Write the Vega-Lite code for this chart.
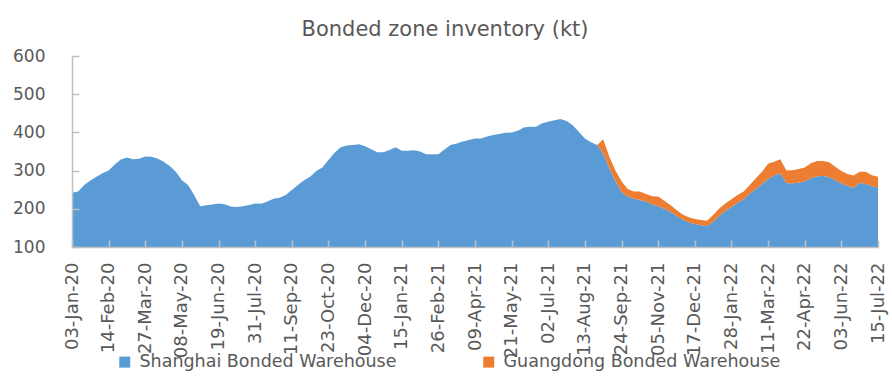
{
  "$schema": "https://vega.github.io/schema/vega-lite/v6.json",
  "width": 806,
  "height": 191,
  "autosize": "none",
  "padding": {"left": 72, "top": 56, "right": 14, "bottom": 137},
  "background": "white",
  "config": {"view": {"stroke": null}},
  "title": {"text": "Bonded zone inventory (kt)", "font": "DejaVu Sans", "fontSize": 21, "fontWeight": "normal", "color": "#595959", "anchor": "middle", "dx": -30, "offset": 7},
  "data": {"values": [
    {"d":"2020-01-03","sh":242},{"d":"2020-01-10","sh":245},{"d":"2020-01-17","sh":262},{"d":"2020-01-24","sh":274},{"d":"2020-01-31","sh":284},
    {"d":"2020-02-07","sh":293},{"d":"2020-02-14","sh":300},{"d":"2020-02-21","sh":316},{"d":"2020-02-28","sh":329},
    {"d":"2020-03-06","sh":334},{"d":"2020-03-13","sh":330},{"d":"2020-03-20","sh":331},{"d":"2020-03-27","sh":337},
    {"d":"2020-04-03","sh":336},{"d":"2020-04-10","sh":332},{"d":"2020-04-17","sh":323},{"d":"2020-04-24","sh":312},
    {"d":"2020-05-01","sh":297},{"d":"2020-05-08","sh":275},{"d":"2020-05-15","sh":262},{"d":"2020-05-22","sh":236},{"d":"2020-05-29","sh":207},
    {"d":"2020-06-05","sh":209},{"d":"2020-06-12","sh":211},{"d":"2020-06-19","sh":214},{"d":"2020-06-26","sh":212},
    {"d":"2020-07-03","sh":206},{"d":"2020-07-10","sh":205},{"d":"2020-07-17","sh":207},{"d":"2020-07-24","sh":210},{"d":"2020-07-31","sh":214},
    {"d":"2020-08-07","sh":213},{"d":"2020-08-14","sh":219},{"d":"2020-08-21","sh":226},{"d":"2020-08-28","sh":229},
    {"d":"2020-09-04","sh":236},{"d":"2020-09-11","sh":249},{"d":"2020-09-18","sh":262},{"d":"2020-09-25","sh":275},
    {"d":"2020-10-02","sh":284},{"d":"2020-10-09","sh":299},{"d":"2020-10-16","sh":308},{"d":"2020-10-23","sh":328},{"d":"2020-10-30","sh":347},
    {"d":"2020-11-06","sh":361},{"d":"2020-11-13","sh":366},{"d":"2020-11-20","sh":367},{"d":"2020-11-27","sh":369},
    {"d":"2020-12-04","sh":364},{"d":"2020-12-11","sh":356},{"d":"2020-12-18","sh":348},{"d":"2020-12-25","sh":348},
    {"d":"2021-01-01","sh":354},{"d":"2021-01-08","sh":361},{"d":"2021-01-15","sh":352},{"d":"2021-01-22","sh":352},{"d":"2021-01-29","sh":353},
    {"d":"2021-02-05","sh":350},{"d":"2021-02-12","sh":343},{"d":"2021-02-19","sh":343},{"d":"2021-02-26","sh":343},
    {"d":"2021-03-05","sh":355},{"d":"2021-03-12","sh":367},{"d":"2021-03-19","sh":371},{"d":"2021-03-26","sh":376},
    {"d":"2021-04-02","sh":380},{"d":"2021-04-09","sh":384},{"d":"2021-04-16","sh":384},{"d":"2021-04-23","sh":389},{"d":"2021-04-30","sh":393},
    {"d":"2021-05-07","sh":396},{"d":"2021-05-14","sh":399},{"d":"2021-05-21","sh":400},{"d":"2021-05-28","sh":404},
    {"d":"2021-06-04","sh":413},{"d":"2021-06-11","sh":415},{"d":"2021-06-18","sh":415},{"d":"2021-06-25","sh":424},
    {"d":"2021-07-02","sh":428},{"d":"2021-07-09","sh":432},{"d":"2021-07-16","sh":435},{"d":"2021-07-23","sh":430},{"d":"2021-07-30","sh":419},
    {"d":"2021-08-06","sh":402},{"d":"2021-08-13","sh":384},{"d":"2021-08-20","sh":374},{"d":"2021-08-27","sh":367,"gd":0},
    {"d":"2021-09-03","sh":345,"gd":37},{"d":"2021-09-10","sh":306,"gd":30},{"d":"2021-09-17","sh":273,"gd":27},{"d":"2021-09-24","sh":244,"gd":28},
    {"d":"2021-10-01","sh":232,"gd":20},{"d":"2021-10-08","sh":226,"gd":19},{"d":"2021-10-15","sh":223,"gd":22},{"d":"2021-10-22","sh":219,"gd":20},{"d":"2021-10-29","sh":212,"gd":21},
    {"d":"2021-11-05","sh":207,"gd":25},{"d":"2021-11-12","sh":200,"gd":21},{"d":"2021-11-19","sh":192,"gd":18},{"d":"2021-11-26","sh":181,"gd":16},
    {"d":"2021-12-03","sh":172,"gd":13},{"d":"2021-12-10","sh":164,"gd":14},{"d":"2021-12-17","sh":160,"gd":13},{"d":"2021-12-24","sh":157,"gd":14},{"d":"2021-12-31","sh":155,"gd":14},
    {"d":"2022-01-07","sh":166,"gd":18},{"d":"2022-01-14","sh":181,"gd":20},{"d":"2022-01-21","sh":195,"gd":19},{"d":"2022-01-28","sh":205,"gd":20},
    {"d":"2022-02-04","sh":216,"gd":20},{"d":"2022-02-11","sh":225,"gd":20},{"d":"2022-02-18","sh":240,"gd":22},{"d":"2022-02-25","sh":252,"gd":28},
    {"d":"2022-03-04","sh":265,"gd":32},{"d":"2022-03-11","sh":278,"gd":40},{"d":"2022-03-18","sh":287,"gd":36},{"d":"2022-03-25","sh":293,"gd":37},
    {"d":"2022-04-01","sh":267,"gd":33},{"d":"2022-04-08","sh":267,"gd":34},{"d":"2022-04-15","sh":268,"gd":36},{"d":"2022-04-22","sh":272,"gd":36},{"d":"2022-04-29","sh":280,"gd":39},
    {"d":"2022-05-06","sh":285,"gd":40},{"d":"2022-05-13","sh":286,"gd":39},{"d":"2022-05-20","sh":283,"gd":39},{"d":"2022-05-27","sh":275,"gd":35},
    {"d":"2022-06-03","sh":267,"gd":32},{"d":"2022-06-10","sh":260,"gd":31},{"d":"2022-06-17","sh":255,"gd":32},{"d":"2022-06-24","sh":268,"gd":29},
    {"d":"2022-07-01","sh":265,"gd":32},{"d":"2022-07-08","sh":260,"gd":28},{"d":"2022-07-15","sh":255,"gd":29}
  ]},
  "transform": [{"fold": ["sh", "gd"], "as": ["k", "v"]}],
  "mark": {"type": "area", "clip": true, "interpolate": "linear"},
  "encoding": {
    "x": {
      "field": "d", "type": "temporal",
      "scale": {"type": "utc", "nice": false},
      "axis": {
        "title": null, "grid": false,
        "values": [1578009600000,1581638400000,1585267200000,1588896000000,1592524800000,1596153600000,1599782400000,1603411200000,1607040000000,1610668800000,1614297600000,1617926400000,1621555200000,1625184000000,1628812800000,1632441600000,1636070400000,1639699200000,1643328000000,1646956800000,1650585600000,1654214400000,1657843200000],
        "format": "%d-%b-%y", "labelAngle": -90, "labelAlign": "right", "labelBaseline": "middle",
        "labelFont": "DejaVu Sans", "labelFontSize": 18, "labelColor": "#595959",
        "labelOverlap": false, "labelFlush": false,
        "domainColor": "#bfbfbf", "domainWidth": 1.5, "tickColor": "#bfbfbf", "tickWidth": 1.5, "tickSize": -7, "labelPadding": 22, "zindex": 1
      }
    },
    "y": {
      "field": "v", "type": "quantitative", "stack": "zero",
      "scale": {"domain": [100, 600], "nice": false, "zero": false},
      "axis": {
        "title": null, "grid": false, "values": [100, 200, 300, 400, 500, 600],
        "labelFont": "DejaVu Sans", "labelFontSize": 17, "labelColor": "#595959",
        "domainColor": "#bfbfbf", "domainWidth": 1.5, "tickColor": "#bfbfbf", "tickWidth": 1.5, "tickSize": -7, "labelPadding": 34, "zindex": 1
      }
    },
    "color": {
      "field": "k", "type": "nominal",
      "scale": {"domain": ["sh", "gd"], "range": ["#5B9BD5", "#ED7D31"]},
      "legend": {
        "title": null, "orient": "none", "legendX": 44, "legendY": 297, "direction": "horizontal",
        "symbolType": "square", "symbolSize": 121, "symbolStrokeWidth": 0, "labelOffset": 6,
        "columnPadding": 83, "labelFont": "DejaVu Sans", "labelFontSize": 17.5, "labelColor": "#595959", "labelLimit": 0,
        "labelExpr": "datum.label == 'sh' ? 'Shanghai Bonded Warehouse' : 'Guangdong Bonded Warehouse'"
      }
    }
  }
}
